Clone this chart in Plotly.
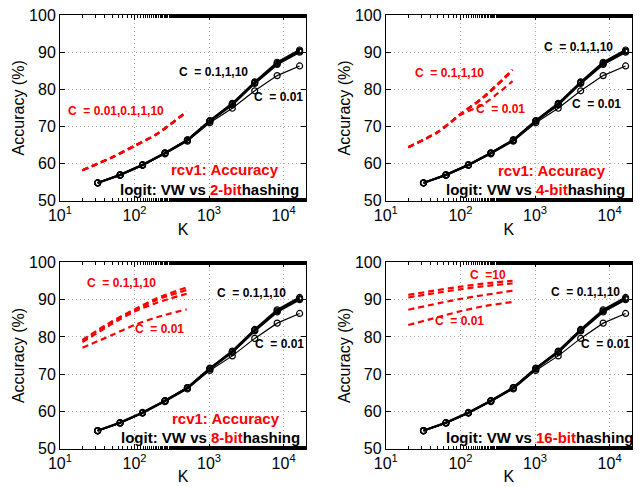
import plotly.graph_objects as go
from plotly.subplots import make_subplots

# ---- data ----
K_vw = [32, 64, 128, 256, 512, 1024, 2048, 4096, 8192, 16384]
vw_C01 = [54.8, 57.0, 59.7, 62.9, 66.4, 71.6, 76.2, 82.0, 87.3, 90.6]
vw_C1 = [54.8, 56.9, 59.6, 62.8, 66.3, 71.5, 76.0, 81.8, 87.0, 90.3]
vw_C10 = [54.8, 56.9, 59.6, 62.8, 66.3, 71.4, 75.8, 81.6, 86.7, 90.0]
vw_C001 = [54.7, 56.8, 59.5, 62.6, 66.0, 71.0, 74.9, 79.6, 83.7, 86.3]

k_bb = [20, 50, 100, 200, 500]
# b-bit hashing: per panel, per C (0.01, 0.1, 1, 10)
bb2 = {
    "0.01": [58.2, 61.6, 64.7, 67.9, 73.9],
    "0.1": [58.2, 61.7, 64.8, 68.0, 74.0],
    "1": [58.2, 61.7, 64.8, 68.0, 74.0],
    "10": [58.2, 61.7, 64.8, 68.0, 74.0],
}
bb4 = {
    "0.01": [64.4, 68.5, 73.1, 75.9, 82.2],
    "0.1": [64.4, 68.5, 73.2, 77.6, 85.0],
    "1": [64.4, 68.5, 73.3, 77.8, 85.2],
    "10": [64.4, 68.5, 73.3, 77.8, 85.3],
}
bb8 = {
    "0.01": [77.1, 80.5, 83.2, 85.3, 87.4],
    "0.1": [78.6, 83.5, 86.8, 89.2, 91.6],
    "1": [79.0, 84.0, 87.2, 90.0, 92.6],
    "10": [79.2, 84.2, 87.4, 90.4, 93.3],
}
bb16 = {
    "0.01": [83.2, 85.3, 86.9, 88.2, 89.4],
    "0.1": [87.3, 89.0, 90.2, 91.2, 92.4],
    "1": [90.6, 91.9, 92.8, 93.6, 94.4],
    "10": [91.3, 92.6, 93.5, 94.3, 95.1],
}
panels = [bb2, bb4, bb8, bb16]
bits = ["2", "4", "8", "16"]

xtickvals = [10, 100, 1000, 10000]
xticktext = ["10<sup>1</sup>", "10<sup>2</sup>", "10<sup>3</sup>", "10<sup>4</sup>"]
ytickvals = [50, 60, 70, 80, 90, 100]

# annotation placements per panel: (text, log10 x, y, color)
ann_specs = [
    [("C  = 0.1,1,10", 3.06, 84.7, "black"), ("C  = 0.01", 3.93, 78.0, "black"),
     ("C  = 0.01,0.1,1,10", 1.75, 74.1, "red")],
    [("C  = 0.1,1,10", 3.58, 91.5, "black"), ("C  = 0.01", 3.82, 76.0, "black"),
     ("C  = 0.1,1,10", 1.85, 84.3, "red"), ("C  = 0.01", 2.54, 74.6, "red")],
    [("C  = 0.1,1,10", 3.57, 91.7, "black"), ("C  = 0.01", 3.95, 78.0, "black"),
     ("C  = 0.1,1,10", 1.82, 94.4, "red"), ("C  = 0.01", 2.34, 82.0, "red")],
    [("C  = 0.1,1,10", 3.68, 92.2, "black"), ("C  = 0.01", 3.95, 78.2, "black"),
     ("C  =10", 2.37, 96.7, "red"), ("C  = 0.01", 1.99, 84.2, "red")],
]
title_pos = [(3.21, 58.3, 3.0, 52.9), (3.23, 58.1, 3.01, 52.9),
             (3.23, 58.1, 3.02, 52.9), (None, None, 3.07, 52.9)]

FONT = "Liberation Sans, Arial, sans-serif"

fig = make_subplots(rows=2, cols=2)
domains = [
    ((0.0933, 0.476), (0.588, 0.969)),
    ((0.600, 0.983), (0.588, 0.969)),
    ((0.0933, 0.476), (0.079, 0.461)),
    ((0.600, 0.983), (0.079, 0.461)),
]

for i, bb in enumerate(panels):
    r, c = i // 2 + 1, i % 2 + 1
    # black VW lines
    for vals, w in [(vw_C01, 2.0), (vw_C1, 2.0), (vw_C10, 2.0), (vw_C001, 1.2)]:
        fig.add_trace(go.Scatter(
            x=K_vw, y=vals, mode="lines+markers",
            line=dict(color="black", width=w),
            marker=dict(symbol="circle-open", size=6, color="black",
                        line=dict(width=1.2, color="black")),
            showlegend=False), row=r, col=c)
    for Ckey in ["0.01", "0.1", "1", "10"]:
        fig.add_trace(go.Scatter(
            x=k_bb, y=bb[Ckey], mode="lines",
            line=dict(color="red", width=2.2, dash="6px,4px", shape="spline", smoothing=0.8),
            showlegend=False), row=r, col=c)

    xa = "x" if i == 0 else f"x{i+1}"
    ya = "y" if i == 0 else f"y{i+1}"
    for text, lx, y, col in ann_specs[i]:
        fig.add_annotation(x=lx, y=y, xref=xa, yref=ya, text=f"<b>{text}</b>",
                           showarrow=False, font=dict(size=12, color=col, family=FONT))
    tx, ty, lx2, ly2 = title_pos[i]
    if tx is not None:
        fig.add_annotation(x=tx, y=ty, xref=xa, yref=ya, text="<b>rcv1: Accuracy</b>",
                           showarrow=False, font=dict(size=15, color="red", family=FONT))
    fig.add_annotation(x=lx2, y=ly2, xref=xa, yref=ya,
                       text=f"<b>logit: VW vs <span style='color:red'>{bits[i]}-bit</span>hashing</b>",
                       showarrow=False, font=dict(size=15, color="black", family=FONT))

    (xd, yd) = domains[i]
    fig.update_xaxes(type="log", range=[1, 4.301], domain=list(xd), automargin=False,
                     tickvals=xtickvals, ticktext=xticktext,
                     ticks="inside", ticklen=5, tickcolor="black",
                     showline=True, linecolor="black", linewidth=1, mirror="ticks",
                     showgrid=True, gridcolor="#aaaaaa", griddash="1px,3px", gridwidth=1,
                     zeroline=False,
                     minor=dict(ticks="inside", ticklen=3, tickcolor="black", showgrid=False),
                     tickfont=dict(size=16, family=FONT, color="black"),
                     title=dict(text="K", font=dict(size=16, family=FONT, color="black"),
                                standoff=0),
                     row=r, col=c)
    fig.update_yaxes(range=[50, 100], domain=list(yd), tickvals=ytickvals, automargin=False,
                     ticks="inside", ticklen=5, tickcolor="black",
                     showline=True, linecolor="black", linewidth=1, mirror="ticks",
                     showgrid=True, gridcolor="#aaaaaa", griddash="1px,3px", gridwidth=1,
                     zeroline=False,
                     tickfont=dict(size=16, family=FONT, color="black"),
                     title=dict(text="Accuracy (%)", font=dict(size=16, family=FONT, color="black"),
                                standoff=0),
                     row=r, col=c)

fig.update_layout(width=643, height=487, margin=dict(l=0, r=0, t=0, b=0),
                  plot_bgcolor="white", paper_bgcolor="white", showlegend=False)
fig.write_html("out.html", config={"displayModeBar": False},
               post_script="document.body.style.margin='0px';document.body.style.overflow='hidden';")
